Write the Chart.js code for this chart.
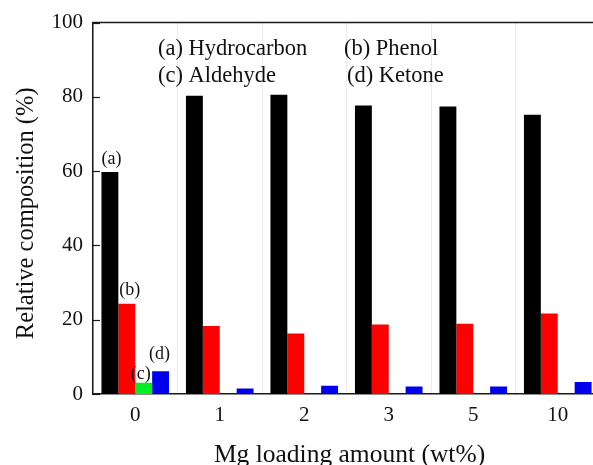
<!DOCTYPE html>
<html>
<head>
<meta charset="utf-8">
<script src="https://cdn.jsdelivr.net/npm/chart.js@4/dist/chart.umd.min.js"></script>
<style>
  html, body { margin: 0; padding: 0; background: #fff; overflow: hidden; }
  #wrap { width: 593px; height: 465px; overflow: hidden; }
  canvas { display: block; }
</style>
</head>
<body>
<div id="wrap"><canvas id="c" width="600" height="465"></canvas></div>
<script>
// Mg loading (wt%) on the catalyst
const loadings = ['0', '1', '2', '3', '5', '10'];

// Relative composition of the products (%)
const hydrocarbon = [59.8, 80.3, 80.6, 77.7, 77.4, 75.2];
const phenol      = [24.3, 18.3, 16.3, 18.7, 18.9, 21.7];
const aldehyde    = [3.0, 0, 0, 0, 0, 0];
const ketone      = [6.1, 1.5, 2.2, 2.0, 2.0, 3.2];

const yTicks = [0, 20, 40, 60, 80, 100];

const xTitle = 'Mg loading amount (wt%)';
const yTitle = 'Relative composition (%)';

const SERIF = '"Liberation Serif", "Times New Roman", serif';

// Short tags written above the bars of the first group: [dataset, dx, gap]
const barTags = [
  { ds: 0, text: '(a)', dx: 1.5, gap: 8 },
  { ds: 1, text: '(b)', dx: 3, gap: 9 },
  { ds: 2, text: '(c)', dx: -3, gap: 4 },
  { ds: 3, text: '(d)', dx: -1, gap: 12 }
];

const decorations = {
  id: 'decorations',
  afterDraw(chart) {
    const { ctx, chartArea: area, scales } = chart;
    const y = scales.y;
    ctx.save();

    // frame line along the top of the plot
    ctx.strokeStyle = '#1a1a1a';
    ctx.lineWidth = 1.5;
    ctx.beginPath();
    ctx.moveTo(area.left, area.top);
    ctx.lineTo(chart.width, area.top);
    ctx.stroke();

    // inward tick marks on the value axis
    ctx.lineWidth = 1.2;
    yTicks.forEach(v => {
      const py = Math.round(y.getPixelForValue(v)) + 0.5;
      ctx.beginPath();
      ctx.moveTo(area.left, py);
      ctx.lineTo(area.left + 7, py);
      ctx.stroke();
    });

    // tags above the first group of bars
    ctx.fillStyle = '#111';
    ctx.font = '18px ' + SERIF;
    ctx.textAlign = 'center';
    ctx.textBaseline = 'alphabetic';
    barTags.forEach(t => {
      const bar = chart.getDatasetMeta(t.ds).data[0];
      ctx.fillText(t.text, bar.x + t.dx, bar.y - t.gap);
    });

    // key text
    ctx.font = '22.5px ' + SERIF;
    ctx.textAlign = 'left';
    ctx.fillText('(a) Hydrocarbon', area.left + 65, area.top + 32);
    ctx.fillText('(c) Aldehyde', area.left + 65, area.top + 59);
    ctx.fillText('(b) Phenol', area.left + 251, area.top + 32);
    ctx.fillText('(d) Ketone', area.left + 254, area.top + 59);

    // axis titles
    ctx.textAlign = 'center';
    ctx.font = '25.5px ' + SERIF;
    ctx.fillText(xTitle, (area.left + area.right) / 2 + 3, chart.height - 3);

    ctx.font = '24.5px ' + SERIF;
    ctx.translate(33, (area.top + area.bottom) / 2 + 5);
    ctx.rotate(-Math.PI / 2);
    ctx.fillText(yTitle, 0, 0);

    ctx.restore();
  }
};

new Chart(document.getElementById('c'), {
  type: 'bar',
  data: {
    labels: loadings,
    datasets: [
      { label: 'Hydrocarbon', data: hydrocarbon, backgroundColor: '#000000' },
      { label: 'Phenol', data: phenol, backgroundColor: '#ff0000' },
      { label: 'Aldehyde', data: aldehyde, backgroundColor: '#00ee22' },
      { label: 'Ketone', data: ketone, backgroundColor: '#0000ee' }
    ]
  },
  options: {
    responsive: false,
    animation: false,
    devicePixelRatio: 1,
    layout: { padding: { top: 21, right: 0, bottom: 0, left: 0 } },
    datasets: { bar: { barPercentage: 1.0, categoryPercentage: 0.8 } },
    plugins: { legend: { display: false }, tooltip: { enabled: false } },
    scales: {
      x: {
        grid: { display: true, offset: true, color: '#ececec', lineWidth: 1, drawTicks: false },
        border: { display: true, color: '#1a1a1a', width: 1.5 },
        ticks: { color: '#111', font: { family: SERIF, size: 21 }, padding: 9 },
        title: { display: false },
        afterFit(scale) { scale.height = 71; }
      },
      y: {
        min: 0,
        max: 100,
        afterBuildTicks(scale) { scale.ticks = yTicks.map(v => ({ value: v })); },
        grid: { display: false, drawTicks: false },
        border: { display: true, color: '#1a1a1a', width: 1.5 },
        ticks: { color: '#111', font: { family: SERIF, size: 21 }, padding: 10 },
        title: { display: false },
        afterFit(scale) { scale.width = 93; }
      }
    }
  },
  plugins: [decorations]
});
</script>
</body>
</html>
